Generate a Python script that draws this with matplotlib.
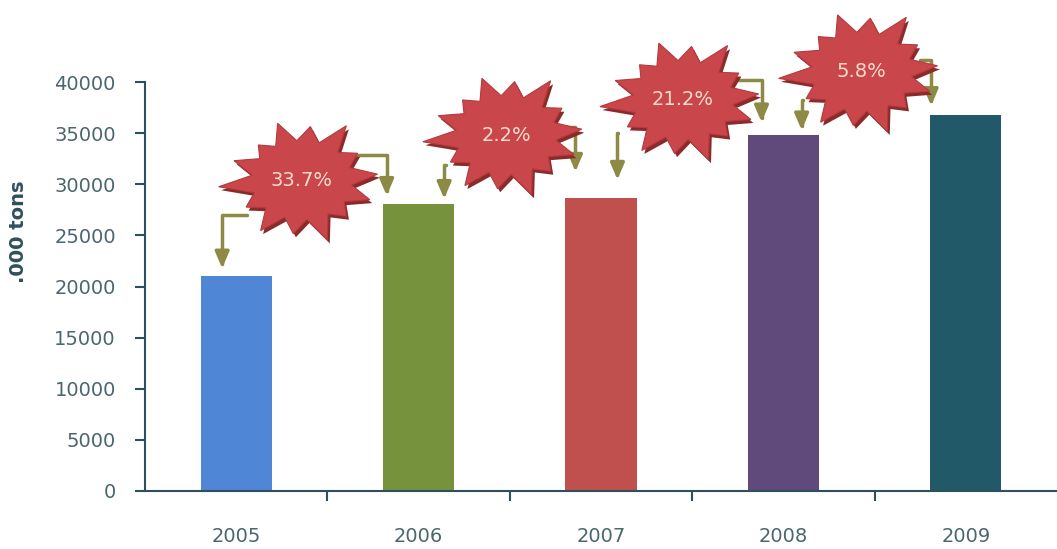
import numpy as np
import matplotlib.pyplot as plt
import matplotlib.transforms as mtransforms
from matplotlib.patches import Polygon

years = ['2005', '2006', '2007', '2008', '2009']
volumes = [21000, 28100, 28700, 34800, 36800]
growth = ['33.7%', '2.2%', '21.2%', '5.8%']
bar_colors = ['#4F86D5', '#76923C', '#C0504D', '#604A7B', '#215968']

axis_col = '#2E4F5C'
tick_col = '#4A666E'
arrow_col = '#8C8A45'

fig = plt.figure(figsize=(10.57, 5.49), dpi=100)
ax = fig.add_axes([145 / 1057, 1 - 491 / 549, 1 - 145 / 1057, (491 - 82) / 549])

x = np.arange(len(years))
ax.bar(x, volumes, width=0.39, color=bar_colors, zorder=2)

ax.set_xlim(-0.5, 4.5)
ax.set_ylim(0, 40000)
ax.set_yticks(np.arange(0, 40001, 5000))
ax.set_xticks(x)
ax.set_xticklabels(years)
ax.set_xticks(np.arange(0.5, 4.0, 1.0), minor=True)
ax.tick_params(axis='x', which='major', length=0, pad=26, labelsize=14, labelcolor=tick_col)
ax.tick_params(axis='x', which='minor', length=7, width=1.5, color=axis_col)
ax.tick_params(axis='y', length=7, width=1.5, color=axis_col, labelsize=14,
               labelcolor=tick_col, pad=14)
for s in ['top', 'right']:
    ax.spines[s].set_visible(False)
for s in ['left', 'bottom']:
    ax.spines[s].set_color(axis_col)
    ax.spines[s].set_linewidth(1.5)

fig.text(18 / 1057, 1 - 232 / 549, '.000 tons', rotation=90, ha='center', va='center',
         fontsize=14, fontweight='bold', color=axis_col)

# пиксели -> данные
px_x = 1 / 183.0
px_y = 40000 / 409.0

# звёзды: центр (x, y) и смещения стрелок в пикселях
star_pos = [(0.36, 30400), (1.48, 34800), (2.45, 38240), (3.43, 41000)]
left_start = [(-55, -35), (-60, -30), (-65, -33), (-59, -28)]
left_drop = [-0.077, 0.14, 0.09, 0.10]
right_start = [(55, 25), (60, 8), (55, 20), (58, 12)]
right_drop = [-0.175, -0.14, -0.12, -0.19]
tip_gap = [8, 5, 18, 5]
tip_gap_r = [8, 26, 13, 9]

spikes = [1.0, 0.86, 1.08, 0.9, 1.0, 0.82, 0.95, 1.1, 0.86, 1.0, 0.9, 1.05, 0.84, 0.95]
n = len(spikes)
ang = np.linspace(0, 2 * np.pi, 2 * n, endpoint=False) + 0.1
rad = np.empty(2 * n)
rad[0::2] = spikes
rad[1::2] = 0.66
star_xy = np.column_stack([76 * rad * np.cos(ang), 60 * rad * np.sin(ang)]) / 100.0

for k, (cx, cy) in enumerate(star_pos):
    trans = fig.dpi_scale_trans + mtransforms.ScaledTranslation(cx, cy, ax.transData)
    shadow = Polygon(star_xy + np.array([0.025, -0.035]), closed=True, facecolor='#8A2A2A',
                     edgecolor='none', transform=trans, zorder=5, clip_on=False)
    star = Polygon(star_xy, closed=True, facecolor='#C9474B', edgecolor='#B23A3E',
                   linewidth=0.8, transform=trans, zorder=6, clip_on=False)
    ax.add_patch(shadow)
    ax.add_patch(star)
    ax.text(cx, cy, growth[k], ha='center', va='center', fontsize=14,
            color='#F6DCCF', zorder=7, clip_on=False)

    # левая стрелка к предыдущему столбцу
    sx = cx + left_start[k][0] * px_x
    sy = cy + left_start[k][1] * px_y
    tx = k + left_drop[k]
    ty = volumes[k] + tip_gap[k] * px_y
    ax.annotate('', xy=(tx, ty), xytext=(sx, sy), zorder=4, annotation_clip=False,
                arrowprops=dict(arrowstyle='-|>,head_length=0.7,head_width=0.3',
                                connectionstyle='angle,angleA=0,angleB=90,rad=0',
                                color=arrow_col, lw=2.5, shrinkA=0, shrinkB=0,
                                mutation_scale=14))
    # правая стрелка к следующему столбцу
    sx = cx + right_start[k][0] * px_x
    sy = cy + right_start[k][1] * px_y
    tx = k + 1 + right_drop[k]
    ty = volumes[k + 1] + tip_gap_r[k] * px_y
    ax.annotate('', xy=(tx, ty), xytext=(sx, sy), zorder=4, annotation_clip=False,
                arrowprops=dict(arrowstyle='-|>,head_length=0.7,head_width=0.3',
                                connectionstyle='angle,angleA=0,angleB=90,rad=0',
                                color=arrow_col, lw=2.5, shrinkA=0, shrinkB=0,
                                mutation_scale=14))

fig.savefig('out.png', dpi=100)
